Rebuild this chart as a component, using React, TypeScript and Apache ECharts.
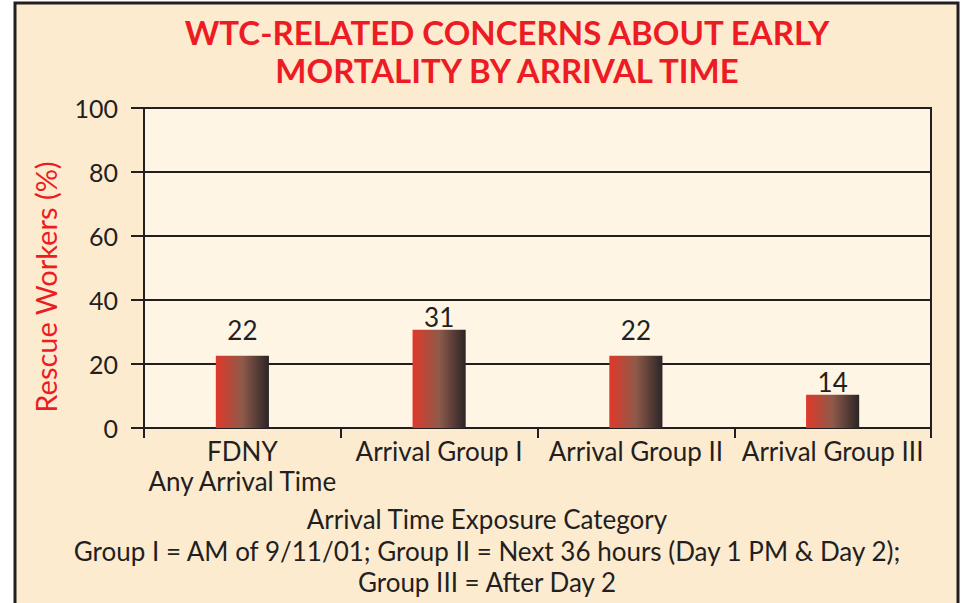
import React, { useEffect, useRef } from "react";
import * as echarts from "echarts";

const categories = ["FDNY\nAny Arrival Time", "Arrival Group I", "Arrival Group II", "Arrival Group III"];
// bar heights as drawn in the picture, and the value labels printed above them
const barHeights = [22.6, 30.7, 22.6, 10.4];
const valueLabels = ["22", "31", "22", "14"];
const yMin = 0;
const yMax = 100;
const yStep = 20;
const titleLines = ["WTC-RELATED CONCERNS ABOUT EARLY", "MORTALITY BY ARRIVAL TIME"];
const yAxisName = "Rescue Workers (%)";
const footnoteLines = [
  "Arrival Time Exposure Category",
  "Group I = AM of 9/11/01; Group II = Next 36 hours (Day 1 PM & Day 2);",
  "Group III = After Day 2",
];

const INK = "#231F20";
const RED = "#ED1C24";
const FONT = "Lato, 'Open Sans', sans-serif";

export default function App() {
  const ref = useRef<HTMLDivElement>(null);
  useEffect(() => {
    if (!ref.current) return;
    const chart = echarts.init(ref.current, null, { renderer: "svg" });
    const labelGap = [13, 0, 13, 0];
    const barGradient = new echarts.graphic.LinearGradient(0, 0, 1, 0, [
      { offset: 0, color: "#E0392A" },
      { offset: 0.5, color: "#8E5A4A" },
      { offset: 1, color: "#2B2526" },
    ]);
    chart.setOption({
      animation: false,
      backgroundColor: "#FFFFFF",
      textStyle: { fontFamily: FONT },
      title: {
        text: titleLines.join("\n"),
        left: 507,
        top: 13,
        textAlign: "center",
        padding: 0,
        textStyle: {
          color: RED,
          fontSize: 33,
          fontWeight: "bold",
          fontFamily: FONT,
          lineHeight: 38,
        },
      },
      grid: {
        left: 144,
        top: 108,
        right: 32,
        bottom: 175,
        show: true,
        backgroundColor: "#FFF5E5",
        borderColor: INK,
        borderWidth: 2,
      },
      xAxis: {
        type: "category",
        data: categories,
        boundaryGap: true,
        axisLine: { show: true, lineStyle: { color: INK, width: 2 } },
        axisTick: { show: true, length: 10, lineStyle: { color: INK, width: 2 } },
        axisLabel: {
          interval: 0,
          color: INK,
          fontSize: 26,
          lineHeight: 30,
          margin: 8,
          fontFamily: FONT,
        },
      },
      yAxis: {
        type: "value",
        min: yMin,
        max: yMax,
        interval: yStep,
        axisLine: { show: true, lineStyle: { color: INK, width: 2 } },
        axisTick: { show: true, length: 13, lineStyle: { color: INK, width: 2 } },
        axisLabel: { color: INK, fontSize: 25, margin: 26, fontFamily: FONT },
        splitLine: { show: true, lineStyle: { color: INK, width: 2 } },
      },
      series: [
        {
          type: "bar",
          barWidth: "27%",
          data: barHeights.map((v, i) => ({
            value: v,
            label: {
              show: true,
              position: "top",
              distance: labelGap[i],
              formatter: valueLabels[i],
              color: INK,
              fontSize: 26,
              fontFamily: FONT,
            },
          })),
          itemStyle: { color: barGradient },
        },
      ],
      graphic: [
        {
          type: "rect",
          z: -100,
          shape: { x: 15, y: 3, width: 943, height: 640 },
          style: { fill: "#FDEBD0", stroke: INK, lineWidth: 3 },
        },
        {
          type: "text",
          x: 45,
          y: 287,
          rotation: Math.PI / 2,
          style: {
            text: yAxisName,
            fill: RED,
            fontSize: 29,
            fontFamily: FONT,
            align: "center",
            verticalAlign: "middle",
          },
        },
        ...footnoteLines.map((t, i) => ({
          type: "text",
          x: 487,
          y: 519 + i * 31.5,
          style: {
            text: t,
            fill: INK,
            fontSize: 26,
            fontFamily: FONT,
            align: "center",
            verticalAlign: "middle",
          },
        })),
      ],
    });
    return () => chart.dispose();
  }, []);
  return (
    <div
      ref={ref}
      style={{ position: "absolute", left: 0, top: 0, width: 963, height: 603 }}
    />
  );
}
